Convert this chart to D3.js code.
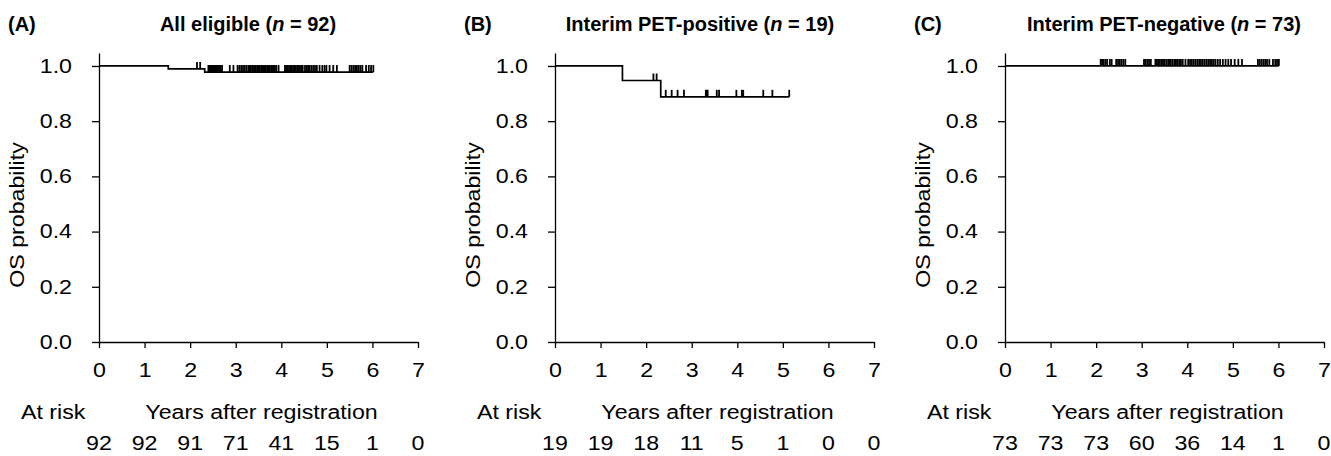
<!DOCTYPE html>
<html>
<head>
<meta charset="utf-8">
<script src="https://cdn.jsdelivr.net/npm/d3@7"></script>
<style>
  body { margin: 0; background: #fff; }
  text { fill: #000; }
</style>
</head>
<body>
<div id="chart"></div>
<script>
// KM curves, three panels

// axis ticks
var xTicks = [0, 1, 2, 3, 4, 5, 6, 7];
var yTicks = [0, 0.2, 0.4, 0.6, 0.8, 1.0];

// panel labels
var panelLetters = ['(A)', '(B)', '(C)'];
var panelNames = ['All eligible', 'Interim PET-positive', 'Interim PET-negative'];
var panelN = [92, 19, 73];

// (A) all eligible: death times, censor times, number at risk
var eventsA = [1.52, 2.32];
var censA = [2.15, 2.22,
  2.40, 2.42, 2.44, 2.46, 2.48, 2.50, 2.52, 2.54, 2.56, 2.58, 2.60, 2.62, 2.64, 2.67, 2.70, 2.87, 2.95,
  3.04, 3.08, 3.12, 3.16, 3.20, 3.24, 3.28, 3.30, 3.33, 3.36, 3.38, 3.41, 3.44, 3.47, 3.50,
  3.53, 3.56, 3.58, 3.61, 3.64, 3.66, 3.69, 3.72, 3.75, 3.78, 3.80, 3.83, 3.86, 3.89, 3.94,
  4.08, 4.11, 4.14, 4.17, 4.20, 4.23, 4.26, 4.29, 4.32, 4.35, 4.38, 4.41, 4.44, 4.47,
  4.52, 4.56, 4.59, 4.62, 4.66, 4.70, 4.74, 4.78, 4.84, 4.90, 4.95, 4.99,
  5.06, 5.14, 5.22, 5.50, 5.54, 5.58, 5.62, 5.66, 5.70, 5.74, 5.78, 5.86, 5.92, 5.97,
  6.02];
var riskA = [92, 92, 91, 71, 41, 15, 1, 0];

// (B) interim PET-positive
var eventsB = [1.48, 2.32];
var censB = [2.16, 2.23, 2.43, 2.56, 2.69, 2.83,
  3.31, 3.33, 3.35, 3.55, 3.60, 3.98,
  4.10, 4.13, 4.57, 4.77,
  5.14];
var riskB = [19, 19, 18, 11, 5, 1, 0, 0];

// (C) interim PET-negative
var eventsC = [];
var censC = [2.10, 2.13, 2.16, 2.20, 2.24, 2.30, 2.34, 2.44, 2.48, 2.52, 2.56, 2.60, 2.64,
  3.05, 3.08, 3.12, 3.16, 3.20, 3.30, 3.33, 3.36, 3.40, 3.44, 3.47, 3.50,
  3.54, 3.58, 3.61, 3.64, 3.68, 3.72, 3.75, 3.78, 3.82, 3.86, 3.90, 3.96,
  4.02, 4.06, 4.10, 4.14, 4.18, 4.22, 4.26, 4.30, 4.34, 4.38, 4.42,
  4.46, 4.50, 4.54, 4.58, 4.62, 4.67, 4.72, 4.78, 4.84, 4.90, 4.96,
  5.04, 5.12, 5.20, 5.55, 5.59, 5.63, 5.67, 5.71, 5.75, 5.80, 5.88, 5.93, 5.97,
  6.01];
var riskC = [73, 73, 73, 60, 36, 14, 1, 0];

var panelEvents = [eventsA, eventsB, eventsC];
var panelCens = [censA, censB, censC];
var panelRisk = [riskA, riskB, riskC];

// layout
var plotLeft = [99, 555, 1005];
var titleX = [248, 700, 1164];
var plotW = 319, yBottom = 342, yTop = 53;
var SX = 1.16;   // the figure's regular text is horizontally stretched

var svg = d3.select('#chart')
  .append('svg')
    .attr('width', 1331)
    .attr('height', 456)
    .style('font-family', '"Liberation Sans", Arial, sans-serif');

var x = d3.scaleLinear().domain([0, 7]).range([0, plotW]);
var y = d3.scaleLinear().domain([0, 1.047]).range([yBottom, yTop]);

function label(g, px, py, txt, anchor, extra) {
  return g.append('text')
    .attr('transform', 'translate(' + px + ',' + py + ')' + (extra || '') + ' scale(' + SX + ',1)')
    .attr('text-anchor', anchor)
    .style('font-size', '20px')
    .text(txt);
}

// Kaplan-Meier estimate from event / censor times
function km(events, cens) {
  var all = events.map(t => ({t: t, e: 1}))
    .concat(cens.map(t => ({t: t, e: 0})))
    .sort((a, b) => a.t - b.t);
  var n = all.length, s = 1, pts = [[0, 1]], marks = [];
  all.forEach(d => {
    if (d.e) { s *= (n - 1) / n; pts.push([d.t, s]); }
    else marks.push([d.t, s]);
    n--;
  });
  pts.push([all[all.length - 1].t, s]);
  return {pts: pts, marks: marks};
}

var line = d3.line()
  .x(d => x(d[0]))
  .y(d => y(d[1]))
  .curve(d3.curveStepAfter);

panelLetters.forEach((letter, i) => {
  var g = svg.append('g')
    .attr('transform', 'translate(' + plotLeft[i] + ',0)');

  // panel letter and title
  svg.append('text')
    .attr('x', plotLeft[i] - 91)
    .attr('y', 31)
    .style('font-size', '20px')
    .style('font-weight', 'bold')
    .text(letter);

  var t = svg.append('text')
    .attr('x', titleX[i])
    .attr('y', 31)
    .attr('text-anchor', 'middle')
    .style('font-size', '20px')
    .style('font-weight', 'bold');
  t.append('tspan').text(panelNames[i] + ' (');
  t.append('tspan').style('font-style', 'italic').text('n');
  t.append('tspan').text(' = ' + panelN[i] + ')');

  // axes
  var xAxis = g.append('g')
    .attr('transform', 'translate(0,' + yBottom + ')')
    .call(d3.axisBottom(x).tickValues(xTicks).tickSize(6).tickSizeOuter(0).tickPadding(15).tickFormat(d3.format('d')));
  xAxis.selectAll('text')
    .attr('transform', 'scale(' + SX + ',1)')
    .style('font-size', '20px')
    .style('font-family', '"Liberation Sans", Arial, sans-serif');

  var yAxis = g.append('g')
    .call(d3.axisLeft(y).tickValues(yTicks).tickSize(7).tickSizeOuter(0).tickFormat(d3.format('.1f')));
  yAxis.selectAll('text')
    .attr('x', -27 / SX)
    .attr('transform', 'scale(' + SX + ',1)')
    .style('font-size', '20px')
    .style('font-family', '"Liberation Sans", Arial, sans-serif');

  g.selectAll('.domain, .tick line')
    .attr('stroke', '#000')
    .attr('stroke-width', 1.3);

  label(g, -75, 215, 'OS probability', 'middle', ' rotate(-90)');

  // survival curve and censor marks
  var fit = km(panelEvents[i], panelCens[i]);

  g.append('path')
    .datum(fit.pts)
    .attr('fill', 'none')
    .attr('stroke', '#000')
    .attr('stroke-width', 1.7)
    .attr('d', line);

  g.selectAll('line.cens')
    .data(fit.marks)
    .enter()
    .append('line')
    .attr('class', 'cens')
    .attr('x1', d => x(d[0]))
    .attr('x2', d => x(d[0]))
    .attr('y1', d => y(d[1]))
    .attr('y2', d => y(d[1]) - 7)
    .attr('stroke', '#000')
    .attr('stroke-width', 1.8);

  // number at risk
  label(g, -78, 419, 'At risk', 'start');
  label(g, x(3.5) + 3, 419, 'Years after registration', 'middle');

  g.selectAll('text.risk')
    .data(panelRisk[i])
    .enter()
    .append('text')
    .attr('class', 'risk')
    .attr('transform', (d, j) => 'translate(' + x(xTicks[j]) + ',450) scale(' + SX + ',1)')
    .attr('text-anchor', 'middle')
    .style('font-size', '20px')
    .text(d => d);
});
</script>
</body>
</html>
